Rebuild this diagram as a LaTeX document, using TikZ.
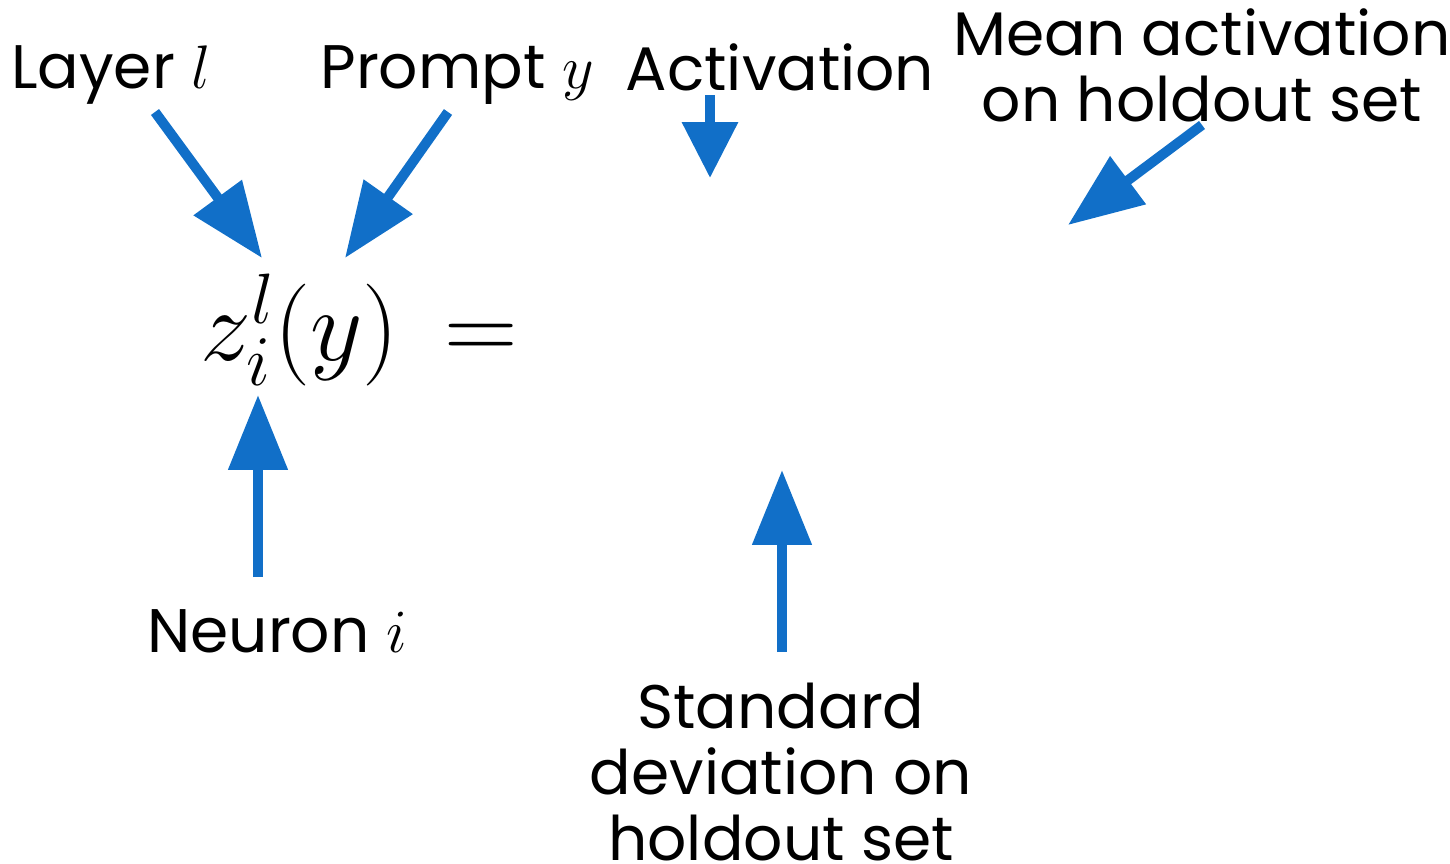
\RequirePackage{fix-cm}
\documentclass[tikz,border=0pt]{standalone}
\usepackage{fontspec}
\setmainfont{Poppins}
\usepackage{amsmath,xcolor}
\definecolor{zblue}{RGB}{17,111,200}
\usetikzlibrary{arrows.meta,positioning,calc}

\begin{document}
\begin{tikzpicture}[x=0.02cm,y=-0.02cm,
  lbl/.style={font=\fontsize{35}{37.5}\selectfont,align=center,inner sep=0pt,anchor=base},
  arr/.style={-{Triangle[length=1.5cm,width=1.15cm]},line width=0.2cm,zblue},
  sarr/.style={-{Triangle[length=1.12cm,width=1.08cm]},line width=0.2cm,zblue}]
  \useasboundingbox (0,0) rectangle (1450,863);
  % Formula
  \node[inner sep=0pt,anchor=base west,font=\fontsize{58}{64}\selectfont] (form) at (200,360) {$z_i^l(y)\,=$};
  \coordinate (tipL) at ([shift={(62,-102)}]form.base west);
  \coordinate (tipP) at ([shift={(145,-102)}]form.base west);
  \coordinate (tipN) at ([shift={(58,35)}]form.base west);
  \coordinate (tipA) at ([shift={(510,-182)}]form.base west);
  \coordinate (tipM) at ([shift={(868,-135)}]form.base west);
  \coordinate (tipS) at ([shift={(582,110)}]form.base west);
  % Labels (multi-line ones sit on their last line)
  \node[lbl] (lay) at (111,88) {Layer $l$};
  \node[lbl] (prm) at (457,88) {Prompt $y$};
  \node[lbl] (act) at (780,90) {Activation};
  \node[lbl] (mean) at (1202,121) {Mean activation\\on holdout set};
  \node[lbl] (neu) at (277,652) {Neuron $i$};
  \node[lbl] (std) at (781,860) {Standard\\deviation on\\holdout set};
  % Arrows
  \draw[arr] ([shift={(44,24)}]lay.base) -- (tipL);
  \draw[arr] ([shift={(-9,24)}]prm.base) -- (tipP);
  \draw[sarr] ([shift={(-70,5)}]act.base) -- (tipA);
  \draw[arr] ([shift={(0,4)}]mean.base) -- (tipM);
  \draw[arr] ([shift={(-19,-75)}]neu.base) -- (tipN);
  \draw[arr] ([shift={(1,-208)}]std.base) -- (tipS);
\end{tikzpicture}
\end{document}
